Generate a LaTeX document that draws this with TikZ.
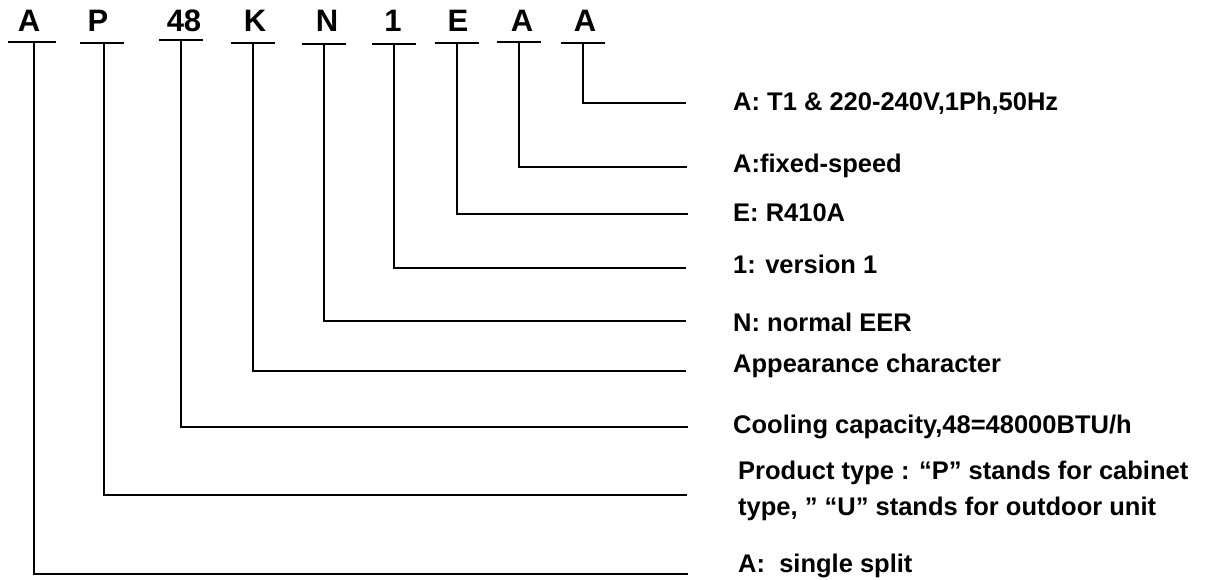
\documentclass[tikz,border=0pt]{standalone}
\usepackage{fontspec}
\setmainfont{Liberation Sans}
\usepackage{tikz}
\usetikzlibrary{positioning,calc}

\begin{document}
\begin{tikzpicture}[x=1pt, y=-1pt,
  code/.style={font=\fontsize{31}{36}\selectfont\bfseries, inner sep=0pt, anchor=base},
  desc/.style={font=\fontsize{25.5}{36}\selectfont\bfseries, inner sep=0pt, anchor=west, align=left},
  bar/.style={draw, line width=2.6pt},
  line/.style={draw, line width=2.4pt}]

  \useasboundingbox (0,0) rectangle (1222,580);

  % model code letters
  \node [code] (a1) at (29,32) {A};
  \node [code] (p2) at (98,32) {P};
  \node [code] (c3) at (184,32) {48};
  \node [code] (k4) at (255,32) {K};
  \node [code] (n5) at (327,32) {N};
  \node [code] (v6) at (393,32) {1};
  \node [code] (e7) at (458,32) {E};
  \node [code] (s8) at (522,32) {A};
  \node [code] (t9) at (585,32) {A};

  % tick points under the letters
  \coordinate (b1) at (34,42);
  \coordinate (b2) at (104,43);
  \coordinate (b3) at (181,40);
  \coordinate (b4) at (253,43);
  \coordinate (b5) at (324,44);
  \coordinate (b6) at (394,44);
  \coordinate (b7) at (457,43);
  \coordinate (b8) at (519,42);
  \coordinate (b9) at (583,43);

  \path [bar] ([xshift=-26pt]b1) -- ([xshift=22pt]b1);
  \path [bar] ([xshift=-24pt]b2) -- ([xshift=20pt]b2);
  \path [bar] ([xshift=-22pt]b3) -- ([xshift=22pt]b3);
  \path [bar] ([xshift=-22pt]b4) -- ([xshift=22pt]b4);
  \path [bar] ([xshift=-22pt]b5) -- ([xshift=22pt]b5);
  \path [bar] ([xshift=-22pt]b6) -- ([xshift=22pt]b6);
  \path [bar] ([xshift=-22pt]b7) -- ([xshift=22pt]b7);
  \path [bar] ([xshift=-22pt]b8) -- ([xshift=22pt]b8);
  \path [bar] ([xshift=-22pt]b9) -- ([xshift=22pt]b9);

  % line ends on the right
  \coordinate (e9) at (686,103);
  \coordinate (e8) at (687,167);
  \coordinate (e7) at (688,214);
  \coordinate (e6) at (686,268);
  \coordinate (e5) at (686,321);
  \coordinate (e4) at (686,371);
  \coordinate (e3) at (688,427);
  \coordinate (e2) at (687,495);
  \coordinate (e1) at (688,574);

  % meanings
  \node [desc] (d9) at (733,103) {A: T1 \& 220-240V,1Ph,50Hz};
  \node [desc] (d8) at (733,166) {A:fixed-speed};
  \node [desc] (d7) at (733,213) {E: R410A};
  \node [desc] (d6) at (733,264) {1: version 1};
  \node [desc] (d5) at (733,322) {N: normal EER};
  \node [desc] (d4) at (733,366) {Appearance character};
  \node [desc] (d3) at (733,427) {Cooling capacity,48=48000BTU/h};
  \node [desc] (d2) at (738,491) {Product type : “P” stands for cabinet\\type, ” “U” stands for outdoor unit};
  \node [desc] (d1) at (738,566) {A:\ \ single split};

  \path [line] (b1) |- (e1);
  \path [line] (b2) |- (e2);
  \path [line] (b3) |- (e3);
  \path [line] (b4) |- (e4);
  \path [line] (b5) |- (e5);
  \path [line] (b6) |- (e6);
  \path [line] (b7) |- (e7);
  \path [line] (b8) |- (e8);
  \path [line] (b9) |- (e9);
\end{tikzpicture}
\end{document}
